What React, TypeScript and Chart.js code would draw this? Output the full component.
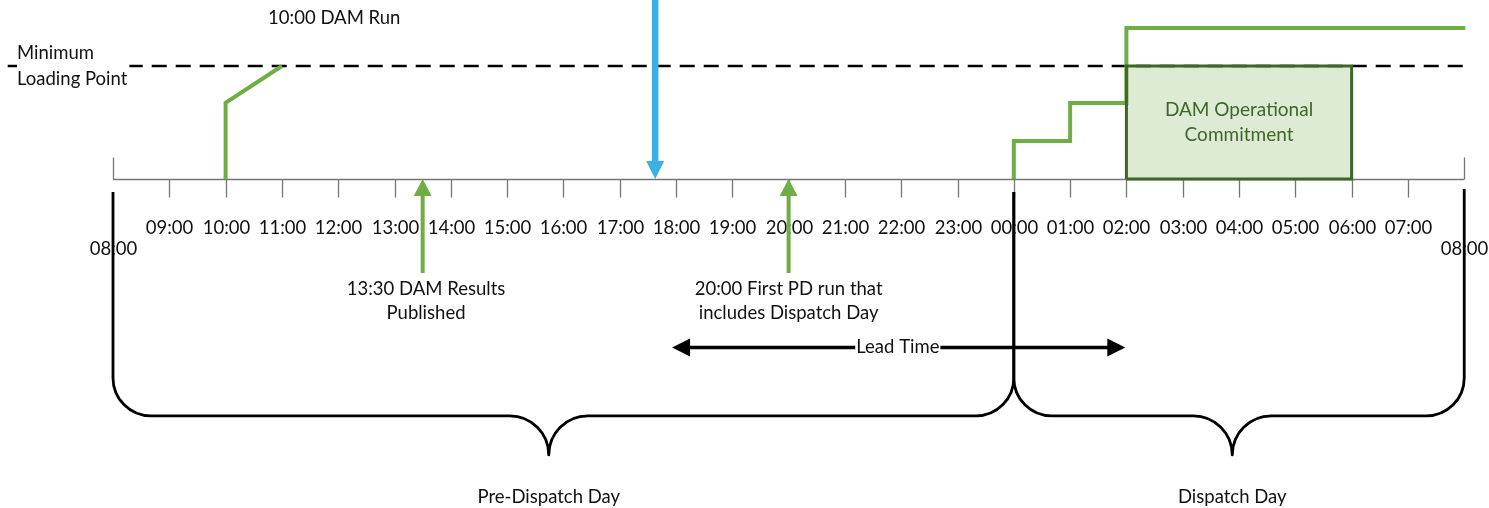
import React, { useEffect, useRef } from "react";
import { Chart, registerables } from "chart.js";

Chart.register(...registerables);

// ---------------- data ----------------
// x: hours elapsed since 08:00 of the Pre-Dispatch Day
// y: unit output expressed as % of the Minimum Loading Point (timeline = 0)
const hourTickLabels = [
  "08:00", "09:00", "10:00", "11:00", "12:00", "13:00", "14:00", "15:00",
  "16:00", "17:00", "18:00", "19:00", "20:00", "21:00", "22:00", "23:00",
  "00:00", "01:00", "02:00", "03:00", "04:00", "05:00", "06:00", "07:00", "08:00",
];
const xRange = [-2.007, 24.44];
const yRange = [-291.2, 158.4];

const mlpX = [-1.87, 24.02];
const mlpY = [100, 100];

const damRunX = [2, 2, 3];
const damRunY = [0, 67.3, 100];

const dispatchX = [16, 16, 17, 17, 18, 18, 24.02];
const dispatchY = [0, 33.6, 33.6, 67.3, 67.3, 133.6, 133.6];

const commitAreaX = [18, 18, 22, 22];
const commitAreaY = [0, 100, 100, 0];
const commitX = [18, 18, 22, 22, 18];
const commitY = [0, 100, 100, 0, 0];

const cutoffX = [9.63, 9.63];
const cutoffY = [158.4, 0];

const damPublishX = [5.5, 5.5];
const firstPdX = [12, 12];
const eventArrowY = [-83.2, 0];

const leadTimeX = [9.93, 17.98];
const leadTimeY = [-149.1, -149.1];

const dayStartX = [0, 16];
const dayEndX = [16, 24];
const dayCuspX = [7.74, 19.88];
const dayNames = ["Pre-Dispatch Day", "Dispatch Day"];

const damRunLabel = { x: 3.93, y: 142.5, text: "10:00 DAM Run" };
const mlpLabel = { x: -1.705, y: [111.5, 88.5], text: ["Minimum", "Loading Point"] };
const eventLabelX = [5.56, 12.0];
const eventLabelY = [-97.3, -118.6];
const eventLabels = [
  ["13:30 DAM Results", "Published"],
  ["20:00 First PD run that", "includes Dispatch Day"],
];
const commitLabel = ["DAM Operational", "Commitment"];
const leadTimeLabel = { x: 13.94, text: "Lead Time" };
const braceTopY = [-11.5, -8.9];
const braceBaseY = -209.7;
const dayLabelY = -281.4;

// ---------------- styles ----------------
const GREEN = "#70AD47";
const DARK_GREEN = "#3D6629";
const LIGHT_GREEN = "#DEEBD4";
const BLUE = "#3AAFE8";
const AXIS_GREY = "#767676";
const FONT = "Lato, Carlito, Calibri, 'Noto Sans', sans-serif";

const pts = (xs: number[], ys: number[]) => xs.map((x, i) => ({ x, y: ys[i] }));

function head(ctx: CanvasRenderingContext2D, tx: number, ty: number, fx: number, fy: number, len: number, half: number, color: string) {
  const ang = Math.atan2(ty - fy, tx - fx);
  ctx.save();
  ctx.translate(tx, ty);
  ctx.rotate(ang);
  ctx.beginPath();
  ctx.moveTo(0, 0);
  ctx.lineTo(-len, -half);
  ctx.lineTo(-len, half);
  ctx.closePath();
  ctx.fillStyle = color;
  ctx.fill();
  ctx.restore();
}

const arrowPlugin = {
  id: "arrowsAndNotes",
  beforeDatasetsDraw(chart: any) {
    const { ctx } = chart;
    const xs = chart.scales.x;
    const ys = chart.scales.y;
    const y0 = Math.round(ys.getPixelForValue(0)) + 0.5;
    ctx.save();
    ctx.strokeStyle = AXIS_GREY;
    ctx.lineWidth = 1.3;
    const xa = xs.getPixelForValue(0);
    const xb = xs.getPixelForValue(hourTickLabels.length - 1);
    ctx.beginPath();
    ctx.moveTo(xa, y0);
    ctx.lineTo(xb, y0);
    ctx.stroke();
    ctx.fillStyle = "#111";
    ctx.font = `18.5px ${FONT}`;
    ctx.textAlign = "center";
    ctx.textBaseline = "middle";
    hourTickLabels.forEach((lab, i) => {
      const px = Math.round(xs.getPixelForValue(i)) + 0.5;
      const isEnd = i === 0 || i === hourTickLabels.length - 1;
      ctx.beginPath();
      if (isEnd) {
        ctx.moveTo(px, y0 - 22);
        ctx.lineTo(px, y0);
      } else {
        ctx.moveTo(px, y0);
        ctx.lineTo(px, y0 + 18);
      }
      ctx.stroke();
      ctx.fillText(lab, px, y0 + (isEnd ? 70 : 49));
    });
    ctx.restore();
  },
  afterDatasetsDraw(chart: any) {
    const { ctx } = chart;
    const xs = chart.scales.x;
    const ys = chart.scales.y;
    const X = (v: number) => xs.getPixelForValue(v);
    const Y = (v: number) => ys.getPixelForValue(v);

    // arrows defined on datasets
    chart.data.datasets.forEach((ds: any, i: number) => {
      if (!ds.arrow) return;
      const meta = chart.getDatasetMeta(i);
      const a = meta.data[0];
      const b = meta.data[meta.data.length - 1];
      const { width, len, half, both, color } = ds.arrow;
      const dx = b.x - a.x;
      const dy = b.y - a.y;
      const d = Math.hypot(dx, dy);
      const ux = dx / d;
      const uy = dy / d;
      const sx = both ? a.x + ux * len * 0.8 : a.x;
      const sy = both ? a.y + uy * len * 0.8 : a.y;
      ctx.save();
      ctx.strokeStyle = color;
      ctx.lineWidth = width;
      ctx.beginPath();
      ctx.moveTo(sx, sy);
      ctx.lineTo(b.x - ux * len * 0.8, b.y - uy * len * 0.8);
      ctx.stroke();
      ctx.restore();
      head(ctx, b.x, b.y, a.x, a.y, len, half, color);
      if (both) head(ctx, a.x, a.y, b.x, b.y, len, half, color);
    });

    ctx.save();
    ctx.textAlign = "center";
    ctx.textBaseline = "middle";
    ctx.font = `18.5px ${FONT}`;
    ctx.fillStyle = "#111";

    // 10:00 DAM Run
    ctx.fillText(damRunLabel.text, X(damRunLabel.x), Y(damRunLabel.y));

    // Minimum Loading Point label with white knockout
    ctx.textAlign = "left";
    const lx = X(mlpLabel.x);
    const w = Math.max(...mlpLabel.text.map((t) => ctx.measureText(t).width));
    ctx.fillStyle = "#fff";
    ctx.fillRect(lx, Y(100) - 4, w + 2, 8);
    ctx.fillStyle = "#111";
    mlpLabel.text.forEach((t, i) => ctx.fillText(t, lx, Y(mlpLabel.y[i])));

    // event labels
    ctx.textAlign = "center";
    eventLabels.forEach((lines, i) => {
      lines.forEach((t, j) => ctx.fillText(t, X(eventLabelX[i]), Y(eventLabelY[j])));
    });

    // lead time label with knockout
    const ltx = X(leadTimeLabel.x);
    const lty = Y(leadTimeY[0]);
    const ltw = ctx.measureText(leadTimeLabel.text).width;
    ctx.fillStyle = "#fff";
    ctx.fillRect(ltx - ltw / 2 - 1, lty - 6, ltw + 2, 12);
    ctx.fillStyle = "#111";
    ctx.fillText(leadTimeLabel.text, ltx, lty);

    // commitment box text
    ctx.fillStyle = DARK_GREEN;
    ctx.font = `19px ${FONT}`;
    const cx = X((commitX[0] + commitX[2]) / 2);
    const cy = Y((commitY[0] + commitY[1]) / 2);
    ctx.fillText(commitLabel[0], cx, cy - 12.5);
    ctx.fillText(commitLabel[1], cx, cy + 12.5);
    ctx.font = `18.5px ${FONT}`;

    // braces
    ctx.strokeStyle = "#000";
    ctx.lineWidth = 2.8;
    ctx.lineJoin = "round";
    const r = 38;
    const rc = 39;
    dayStartX.forEach((sx0, i) => {
      const x0 = X(sx0);
      const x1 = X(dayEndX[i]);
      const xc = X(dayCuspX[i]);
      const yt0 = Y(braceTopY[0]);
      const yt1 = Y(braceTopY[i === 0 ? 0 : 1]);
      const yh = Y(braceBaseY);
      ctx.beginPath();
      ctx.moveTo(x0, yt0);
      ctx.lineTo(x0, yh - r);
      ctx.arcTo(x0, yh, x0 + r, yh, r);
      ctx.lineTo(xc - rc, yh);
      ctx.arc(xc - rc, yh + rc, rc, -Math.PI / 2, 0);
      ctx.arc(xc + rc, yh + rc, rc, Math.PI, Math.PI * 1.5);
      ctx.lineTo(x1 - r, yh);
      ctx.arcTo(x1, yh, x1, yh - r, r);
      ctx.lineTo(x1, yt1);
      ctx.stroke();
      ctx.fillStyle = "#111";
      ctx.fillText(dayNames[i], xc, Y(dayLabelY));
    });
    ctx.restore();
  },
};

export default function App() {
  const ref = useRef<HTMLCanvasElement>(null);
  useEffect(() => {
    document.body.style.margin = "0";
    const chart = new Chart(ref.current as HTMLCanvasElement, {
      type: "scatter",
      data: {
        datasets: [
          {
            label: "Gate closure",
            data: pts(cutoffX, cutoffY),
            showLine: false,
            pointRadius: 0,
            arrow: { width: 6.5, len: 18, half: 9, both: false, color: BLUE },
            order: 0,
          } as any,
          {
            label: "DAM results published",
            data: pts(damPublishX, eventArrowY),
            showLine: false,
            pointRadius: 0,
            arrow: { width: 4, len: 17, half: 9, both: false, color: GREEN },
            order: 0,
          } as any,
          {
            label: "First PD run",
            data: pts(firstPdX, eventArrowY),
            showLine: false,
            pointRadius: 0,
            arrow: { width: 4, len: 17, half: 9, both: false, color: GREEN },
            order: 0,
          } as any,
          {
            label: "Lead time",
            data: pts(leadTimeX, leadTimeY),
            showLine: false,
            pointRadius: 0,
            arrow: { width: 3.5, len: 18, half: 9, both: true, color: "#000" },
            order: 0,
          } as any,
          {
            label: "DAM Operational Commitment outline",
            data: pts(commitX, commitY),
            showLine: true,
            fill: false,
            borderColor: DARK_GREEN,
            borderWidth: 3,
            pointRadius: 0,
            tension: 0,
            order: 1,
          },
          {
            label: "DAM Operational Commitment",
            data: pts(commitAreaX, commitAreaY),
            showLine: true,
            fill: "origin",
            backgroundColor: LIGHT_GREEN,
            borderColor: "rgba(0,0,0,0)",
            borderWidth: 0,
            pointRadius: 0,
            tension: 0,
            order: 4,
          },
          {
            label: "Dispatch schedule",
            data: pts(dispatchX, dispatchY),
            showLine: true,
            borderColor: GREEN,
            borderWidth: 4,
            pointRadius: 0,
            borderJoinStyle: "miter",
            order: 2,
          },
          {
            label: "DAM run schedule",
            data: pts(damRunX, damRunY),
            showLine: true,
            borderColor: GREEN,
            borderWidth: 4,
            pointRadius: 0,
            borderJoinStyle: "miter",
            order: 2,
          },
          {
            label: "Minimum Loading Point",
            data: pts(mlpX, mlpY),
            showLine: true,
            borderColor: "#000",
            borderWidth: 2.3,
            borderDash: [15, 9],
            pointRadius: 0,
            order: 3,
          },
        ],
      },
      options: {
        responsive: false,
        animation: false,
        devicePixelRatio: 1,
        events: [],
        layout: { padding: 0 },
        plugins: {
          legend: { display: false },
          tooltip: { enabled: false },
          filler: { propagate: false, drawTime: "beforeDatasetDraw" },
        },
        scales: {
          x: { type: "linear", min: xRange[0], max: xRange[1], display: false },
          y: { type: "linear", min: yRange[0], max: yRange[1], display: false },
        },
      },
      plugins: [arrowPlugin],
    });
    return () => chart.destroy();
  }, []);
  return (
    <div style={{ position: "absolute", left: 0, top: 0, width: 1489, height: 508, background: "#fff" }}>
      <canvas ref={ref} width={1489} height={508} style={{ display: "block" }} />
    </div>
  );
}
